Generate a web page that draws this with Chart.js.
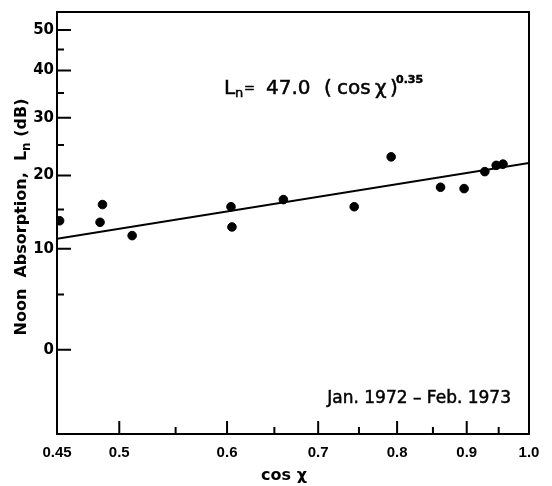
<!DOCTYPE html>
<html>
<head>
<meta charset="utf-8">
<script src="https://cdn.jsdelivr.net/npm/chart.js@4"></script>
<style>
html,body{margin:0;padding:0;background:#fff}
</style>
</head>
<body>
<canvas id="chart" width="552" height="486"></canvas>
<script>
// values
const cosChi = [0.452, 0.484, 0.486, 0.511, 0.604, 0.605, 0.660, 0.744, 0.792, 0.861, 0.896, 0.928, 0.946, 0.957]
const absorption = [13.5, 13.3, 15.7, 11.6, 15.4, 12.7, 16.4, 15.4, 23.0, 18.2, 18.0, 20.6, 21.6, 21.8]
const fitCos = [0.45, 1.0]
const fitAbs = [11.2, 22.0]

const xTicks = [0.45, 0.5, 0.55, 0.6, 0.65, 0.7, 0.75, 0.8, 0.85, 0.9, 0.95, 1.0]
const xLabels = ["0.45", "0.5", "", "0.6", "", "0.7", "", "0.8", "", "0.9", "", "1.0"]
const yTicks = [0, 5, 10, 15, 20, 25, 30, 35, 40, 45, 50]
const yLabels = ["0", "", "10", "", "20", "", "30", "", "40", "", "50"]

// the y axis of the figure is log(L + 22)
const Y_OFFSET = 22

const FONT = "'DejaVu Sans', sans-serif"
const FONT2 = "'Liberation Sans', Arial, sans-serif"

class OffsetLogScale extends Chart.LinearScale {
  configure(){
    super.configure()
    this._tStart = Math.log10(this.min + Y_OFFSET)
    this._tEnd = Math.log10(this.max + Y_OFFSET)
  }
  getPixelForValue(v){
    if(v === null || v === undefined) return NaN
    return this.getPixelForDecimal((Math.log10(v + Y_OFFSET) - this._tStart) / (this._tEnd - this._tStart))
  }
  getValueForPixel(p){
    return Math.pow(10, this._tStart + this.getDecimalForPixel(p) * (this._tEnd - this._tStart)) - Y_OFFSET
  }
}
OffsetLogScale.id = "offsetLog"
OffsetLogScale.defaults = {}
Chart.register(OffsetLogScale)

function drawRuns(ctx, runs, x, y, heavy){
  let cx = x
  runs.forEach(r=>{
    ctx.font = r.font
    const px = r.x !== undefined ? r.x : cx
    ctx.fillText(r.t, px, y + (r.dy || 0))
    if(heavy) ctx.strokeText(r.t, px, y + (r.dy || 0))
    cx = px + ctx.measureText(r.t).width
  })
}
function runsWidth(ctx, runs){
  let w = 0
  runs.forEach(r=>{ ctx.font = r.font; w += ctx.measureText(r.t).width })
  return w
}

const framePlugin = {
  id: "frame",
  beforeDatasetsDraw(chart){
    const {ctx, chartArea:a, scales:{x, y}} = chart
    ctx.save()
    ctx.strokeStyle = "#000"
    ctx.lineWidth = 2
    ctx.strokeRect(a.left, a.top, a.right - a.left, a.bottom - a.top)
    ctx.beginPath()
    xTicks.forEach((v, i)=>{
      if(v <= x.min || v >= x.max) return
      const px = x.getPixelForValue(v)
      const len = xLabels[i] ? 13 : 7
      ctx.moveTo(px, a.bottom)
      ctx.lineTo(px, a.bottom - len)
    })
    yTicks.forEach((v, i)=>{
      const py = y.getPixelForValue(v)
      const len = yLabels[i] ? 14 : 7
      ctx.moveTo(a.left, py)
      ctx.lineTo(a.left + len, py)
    })
    ctx.stroke()
    ctx.restore()
  },
  afterDraw(chart){
    const {ctx} = chart
    ctx.save()
    ctx.fillStyle = "#000"
    ctx.strokeStyle = "#000"
    ctx.lineWidth = 0.5
    ctx.textBaseline = "alphabetic"

    // equation
    const big = "20px " + FONT
    drawRuns(ctx, [
      {t:"L", font:big, x:224},
      {t:"n", font:"13px " + FONT, x:235, dy:3},
      {t:"=", font:"13px " + FONT, x:244, dy:-2},
      {t:"47.0", font:big, x:266},
      {t:"(", font:big, x:324},
      {t:"cos", font:big, x:337},
      {t:"χ", font:big, x:375},
      {t:")", font:big, x:390},
      {t:"0.35", font:"bold 11px " + FONT, x:396, dy:-11}
    ], 224, 94, true)

    // period
    ctx.font = "17px " + FONT
    ctx.textAlign = "right"
    ctx.fillText("Jan. 1972 \u2013 Feb. 1973", 511, 403)
    ctx.strokeText("Jan. 1972 \u2013 Feb. 1973", 511, 403)

    // x title
    ctx.textAlign = "center"
    ctx.font = "bold 16px " + FONT
    ctx.fillText("cos χ", 284, 480)

    // y title
    ctx.textAlign = "left"
    const runs = [
      {t:"Noon  Absorption,  L", font:"bold 16px " + FONT},
      {t:"n", font:"bold 12px " + FONT, dy:4},
      {t:" (dB)", font:"bold 16px " + FONT}
    ]
    const w = runsWidth(ctx, runs)
    ctx.translate(26, 217)
    ctx.rotate(-Math.PI / 2)
    drawRuns(ctx, runs, -w / 2, 0, false)
    ctx.restore()
  }
}

new Chart(document.getElementById("chart"), {
  type: "scatter",
  data: {
    datasets: [
      {
        data: cosChi.map((c, i)=>({x:c, y:absorption[i]})),
        backgroundColor: "#000",
        borderColor: "#000",
        pointRadius: 4.3,
        pointHoverRadius: 4.3
      },
      {
        data: fitCos.map((c, i)=>({x:c, y:fitAbs[i]})),
        showLine: true,
        borderColor: "#000",
        borderWidth: 2,
        pointRadius: 0
      }
    ]
  },
  options: {
    responsive: false,
    animation: false,
    devicePixelRatio: 1,
    layout: {padding: {top: 11, right: 23, left: 0, bottom: 0}},
    plugins: {legend: {display: false}, tooltip: {enabled: false}},
    scales: {
      x: {
        type: "logarithmic",
        min: 0.45,
        max: 1.0,
        bounds: "data",
        grid: {display: false, drawTicks: false},
        border: {display: false},
        afterBuildTicks: s=>{ s.ticks = xTicks.map(v=>({value:v})) },
        afterFit: s=>{ s.height = 52 },
        ticks: {
          autoSkip: false,
          maxRotation: 0,
          padding: 10,
          color: "#000",
          font: {family: FONT2, size: 15, weight: "bold"},
          callback: v=>{ const i = xTicks.indexOf(v); return i < 0 ? "" : xLabels[i] }
        }
      },
      y: {
        type: "offsetLog",
        min: -5.9,
        max: 55,
        bounds: "data",
        grid: {display: false, drawTicks: false},
        border: {display: false},
        afterBuildTicks: s=>{ s.ticks = yTicks.map(v=>({value:v})) },
        afterFit: s=>{ s.width = 57 },
        ticks: {
          autoSkip: false,
          padding: 3,
          color: "#000",
          font: {family: FONT, size: 15, weight: "bold"},
          callback: v=>{ const i = yTicks.indexOf(v); return i < 0 ? "" : yLabels[i] }
        }
      }
    }
  },
  plugins: [framePlugin]
})
</script>
</body>
</html>
